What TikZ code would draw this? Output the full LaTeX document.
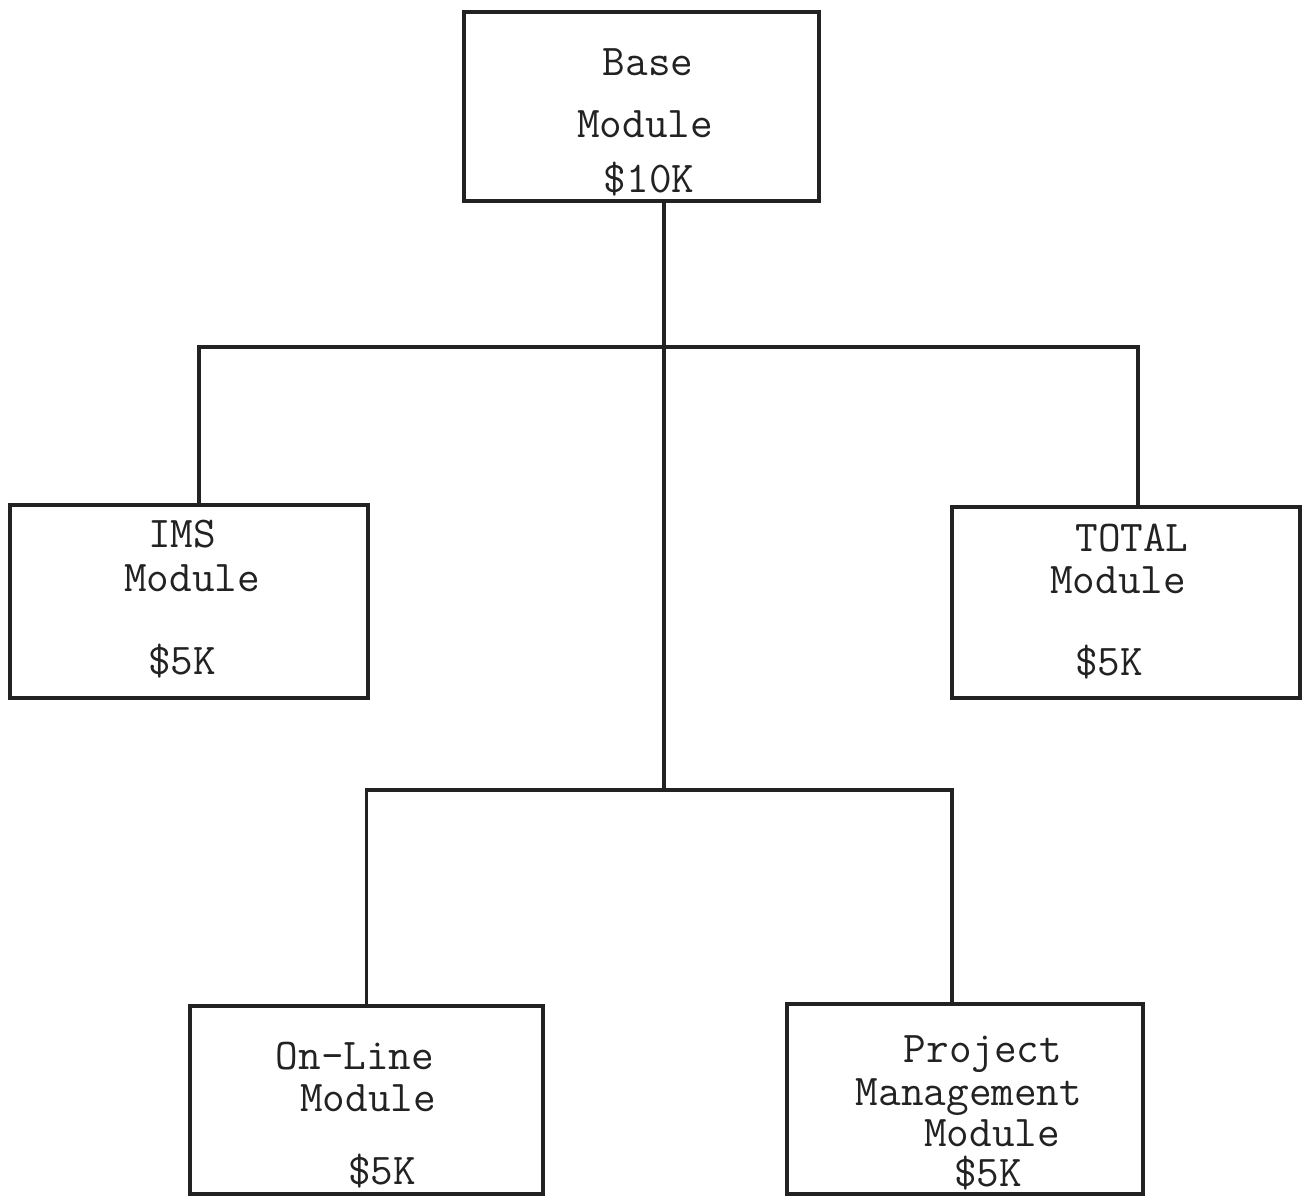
\documentclass[tikz,border=0pt]{standalone}
\usepackage{fontspec}
\usepackage{tikz}
\usetikzlibrary{positioning}
\definecolor{ink}{HTML}{222222}

\begin{document}
\begin{tikzpicture}[x=0.02cm,y=-0.02cm,line width=1.8pt,draw=ink,
			mod box/.style={rectangle,draw=ink,outer sep=0pt,inner sep=0pt},
			mod text/.style={anchor=base,inner sep=0pt,text=ink,font=\ttfamily\fontsize{25}{30}\selectfont}]

			\useasboundingbox (0,0) rectangle (1302,1196);

			% module boxes
			\node[mod box, minimum width=7.1cm, minimum height=3.78cm] (base) at (641.5,106.5) {};
			\node[mod box, minimum width=7.16cm, minimum height=3.86cm] (ims) at (189,601.5) {};
			\node[mod box, minimum width=6.96cm, minimum height=3.82cm] (total) at (1126,602.5) {};
			\node[mod box, minimum width=7.06cm, minimum height=3.76cm] (online) at (366.5,1100) {};
			\node[mod box, minimum width=7.12cm, minimum height=3.8cm] (project) at (965,1099) {};

			% texts
			\node[mod text] (base1) at (648,76) {Base};
			\node[mod text] (base2) at (645,138) {Module};
			\node[mod text] (base3) at (649,193) {\$10K};

			\node[mod text] (ims1) at (182,547) {IMS};
			\node[mod text] (ims2) at (192,591) {Module};
			\node[mod text] (ims3) at (182,674) {\$5K};

			\node[mod text] (total1) at (1132,551) {TOTAL};
			\node[mod text] (total2) at (1118,593) {Module};
			\node[mod text] (total3) at (1109,675) {\$5K};

			\node[mod text] (online1) at (355,1069) {On-Line};
			\node[mod text] (online2) at (368,1111) {Module};
			\node[mod text] (online3) at (382,1184) {\$5K};

			\node[mod text] (project1) at (983,1062) {Project};
			\node[mod text] (project2) at (969,1105) {Management};
			\node[mod text] (project3) at (992,1146) {Module};
			\node[mod text] (project4) at (988,1186) {\$5K};

			% connectors
			\coordinate (split) at (664,347);
			\coordinate (lowsplit) at (664,790);
			\draw (base.south -| split) -- (lowsplit);
			\draw ([xshift=0.2cm]ims.north) |- (split) -| ([xshift=0.24cm]total.north);
			\draw (online.north) |- (lowsplit) -| ([xshift=-0.26cm]project.north);

		\end{tikzpicture}
\end{document}
